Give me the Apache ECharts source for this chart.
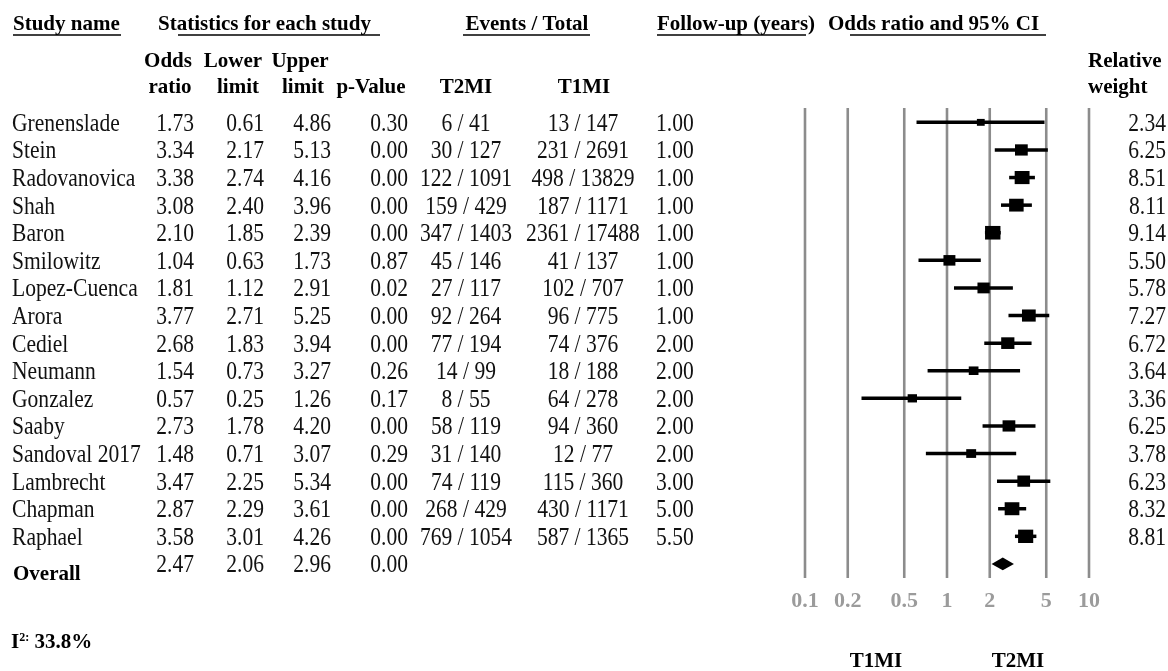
<!DOCTYPE html>
<html>
<head>
<meta charset="utf-8">
<title>Forest plot: odds ratio T2MI vs T1MI</title>
<script src="https://cdn.jsdelivr.net/npm/echarts@6/dist/echarts.min.js"></script>
<style>
  html, body { margin: 0; padding: 0; background: #ffffff; }
  #chart { width: 1168px; height: 671px; }
</style>
</head>
<body>
<div id="chart"></div>
<script>
// ---- study data ----
const studies = ['Grenenslade', 'Stein', 'Radovanovica', 'Shah', 'Baron', 'Smilowitz', 'Lopez-Cuenca', 'Arora',
  'Cediel', 'Neumann', 'Gonzalez', 'Saaby', 'Sandoval 2017', 'Lambrecht', 'Chapman', 'Raphael'];
const oddsRatio = [1.73, 3.34, 3.38, 3.08, 2.10, 1.04, 1.81, 3.77, 2.68, 1.54, 0.57, 2.73, 1.48, 3.47, 2.87, 3.58];
const lowerLimit = [0.61, 2.17, 2.74, 2.40, 1.85, 0.63, 1.12, 2.71, 1.83, 0.73, 0.25, 1.78, 0.71, 2.25, 2.29, 3.01];
const upperLimit = [4.86, 5.13, 4.16, 3.96, 2.39, 1.73, 2.91, 5.25, 3.94, 3.27, 1.26, 4.20, 3.07, 5.34, 3.61, 4.26];
const pValues = ['0.30', '0.00', '0.00', '0.00', '0.00', '0.87', '0.02', '0.00', '0.00', '0.26', '0.17', '0.00', '0.29', '0.00', '0.00', '0.00'];
const eventsT2MI = ['6 / 41', '30 / 127', '122 / 1091', '159 / 429', '347 / 1403', '45 / 146', '27 / 117', '92 / 264',
  '77 / 194', '14 / 99', '8 / 55', '58 / 119', '31 / 140', '74 / 119', '268 / 429', '769 / 1054'];
const eventsT1MI = ['13 / 147', '231 / 2691', '498 / 13829', '187 / 1171', '2361 / 17488', '41 / 137', '102 / 707', '96 / 775',
  '74 / 376', '18 / 188', '64 / 278', '94 / 360', '12 / 77', '115 / 360', '430 / 1171', '587 / 1365'];
const followUp = [1.00, 1.00, 1.00, 1.00, 1.00, 1.00, 1.00, 1.00, 2.00, 2.00, 2.00, 2.00, 2.00, 3.00, 5.00, 5.50];
const relWeight = [2.34, 6.25, 8.51, 8.11, 9.14, 5.50, 5.78, 7.27, 6.72, 3.64, 3.36, 6.25, 3.78, 6.23, 8.32, 8.81];

// pooled estimate
const overallOR = 2.47;
const overallLower = 2.06;
const overallUpper = 2.96;
const overallP = '0.00';
const heterogeneityI2 = '33.8%';

// log axis reference lines / tick labels
const axisTicks = [0.1, 0.2, 0.5, 1, 2, 5, 10];
const axisTickLabels = ['0.1', '0.2', '0.5', '1', '2', '5', '10'];

// ---- styling ----
const FONT = "'Liberation Serif', 'Times New Roman', serif";
const ROW_MIN = -0.52;
const ROW_MAX = 16.51;
const OVERALL_ROW = studies.length;
const BODY_SIZE = 24.5;
const BODY_SQUEEZE = 0.88;   // narrow serif body text

// body text: positioned by the element origin so the horizontal squeeze keeps alignment
function textEl(text, x, y, extra) {
  return {
    type: 'text',
    silent: true,
    x: x, y: y,
    scaleX: BODY_SQUEEZE,
    style: Object.assign({
      text: text, x: 0, y: 0,
      fontFamily: FONT, fontSize: BODY_SIZE, fontWeight: 'normal',
      fill: '#111111', align: 'left', verticalAlign: 'middle'
    }, extra || {})
  };
}
function boldEl(text, x, y, extra) {
  return {
    type: 'text',
    silent: true,
    style: Object.assign({
      text: text, x: x, y: y,
      fontFamily: FONT, fontSize: 21, fontWeight: 'bold',
      fill: '#000000', align: 'left', verticalAlign: 'middle'
    }, extra || {})
  };
}
function underline(x1, x2, y) {
  return { type: 'line', silent: true, shape: { x1: x1, y1: y, x2: x2, y2: y }, style: { stroke: '#000', lineWidth: 1.6 } };
}

const chart = echarts.init(document.getElementById('chart'), null, { renderer: 'canvas' });

const studyData = studies.map((s, i) => [lowerLimit[i], upperLimit[i], oddsRatio[i], relWeight[i], i]);
const tableRows = studies.map((s, i) => [1, i]).concat([[1, OVERALL_ROW]]);

const option = {
  animation: false,
  backgroundColor: '#ffffff',
  grid: { left: 805, right: 79, top: 108, height: 470, containLabel: false },
  xAxis: {
    type: 'log', logBase: 10, min: 0.1, max: 10,
    axisLine: { show: false }, axisTick: { show: false }, axisLabel: { show: false }, splitLine: { show: false }
  },
  yAxis: {
    type: 'value', inverse: true, min: ROW_MIN, max: ROW_MAX,
    axisLine: { show: false }, axisTick: { show: false }, axisLabel: { show: false }, splitLine: { show: false }
  },
  series: [
    {
      // vertical reference lines and their tick labels
      name: 'scale',
      type: 'custom',
      clip: false,
      silent: true,
      data: axisTicks.map((v, i) => [v, i]),
      encode: { x: 0 },
      renderItem: function (params, api) {
        const v = api.value(0);
        const top = api.coord([v, ROW_MIN]);
        const bot = api.coord([v, ROW_MAX]);
        return {
          type: 'group',
          children: [
            { type: 'line', shape: { x1: top[0], y1: top[1], x2: bot[0], y2: bot[1] },
              style: { stroke: '#8c8c8c', lineWidth: 2.6 } },
            boldEl(axisTickLabels[params.dataIndex], top[0], 601,
              { align: 'center', fontSize: 22, fill: '#9b9b9b' })
          ]
        };
      }
    },
    {
      // study estimates: CI whisker + weighted square
      name: 'studies',
      type: 'custom',
      clip: false,
      data: studyData,
      encode: { x: [0, 1, 2], y: 4 },
      renderItem: function (params, api) {
        const row = api.value(4);
        const lo = api.coord([api.value(0), row]);
        const hi = api.coord([api.value(1), row]);
        const c = api.coord([api.value(2), row]);
        const w = Math.sqrt(api.value(3));
        const sw = 5.1 * w, sh = 4.5 * w;
        return {
          type: 'group',
          children: [
            { type: 'line', shape: { x1: lo[0], y1: lo[1], x2: hi[0], y2: hi[1] },
              style: { stroke: '#000', lineWidth: 3.5 } },
            { type: 'rect', shape: { x: c[0] - sw / 2, y: c[1] - sh / 2, width: sw, height: sh },
              style: { fill: '#000' } }
          ]
        };
      }
    },
    {
      // pooled estimate diamond
      name: 'overall',
      type: 'custom',
      clip: false,
      data: [[overallLower, overallUpper, overallOR, OVERALL_ROW]],
      encode: { x: [0, 1, 2], y: 3 },
      renderItem: function (params, api) {
        const row = api.value(3);
        const lo = api.coord([api.value(0), row]);
        const hi = api.coord([api.value(1), row]);
        const c = api.coord([api.value(2), row]);
        const h = 6.4;
        return {
          type: 'polygon',
          shape: { points: [[lo[0], lo[1]], [c[0], c[1] - h], [hi[0], hi[1]], [c[0], c[1] + h]] },
          style: { fill: '#000' }
        };
      }
    },
    {
      // table columns to the left and relative weights to the right
      name: 'table',
      type: 'custom',
      clip: false,
      silent: true,
      data: tableRows,
      encode: { x: 0, y: 1 },
      renderItem: function (params, api) {
        const row = api.value(1);
        const y = api.coord([1, row])[1] + 2;
        const i = params.dataIndex;
        if (i < studies.length) {
          return {
            type: 'group',
            children: [
              textEl(studies[i], 12, y),
              textEl(oddsRatio[i].toFixed(2), 194, y, { align: 'right' }),
              textEl(lowerLimit[i].toFixed(2), 264, y, { align: 'right' }),
              textEl(upperLimit[i].toFixed(2), 331, y, { align: 'right' }),
              textEl(pValues[i], 408, y, { align: 'right' }),
              textEl(eventsT2MI[i], 466, y, { align: 'center' }),
              textEl(eventsT1MI[i], 583, y, { align: 'center' }),
              textEl(followUp[i].toFixed(2), 656, y),
              textEl(relWeight[i].toFixed(2), 1166, y, { align: 'right' })
            ]
          };
        }
        return {
          type: 'group',
          children: [
            boldEl('Overall', 13, y + 9),
            textEl(overallOR.toFixed(2), 194, y, { align: 'right' }),
            textEl(overallLower.toFixed(2), 264, y, { align: 'right' }),
            textEl(overallUpper.toFixed(2), 331, y, { align: 'right' }),
            textEl(overallP, 408, y, { align: 'right' })
          ]
        };
      }
    }
  ],
  graphic: [
    // column group headings
    boldEl('Study name', 13, 25), underline(13, 121, 35),
    boldEl('Statistics for each study', 158, 25), underline(178, 380, 35),
    boldEl('Events / Total', 527, 25, { align: 'center' }), underline(463, 590, 35),
    boldEl('Follow-up (years)', 657, 25), underline(657, 806, 35),
    boldEl('Odds ratio and 95% CI', 828, 25), underline(850, 1046, 35),
    // sub headings
    boldEl('Odds', 168, 62, { align: 'center' }), boldEl('ratio', 170, 88, { align: 'center' }),
    boldEl('Lower', 233, 62, { align: 'center' }), boldEl('limit', 238, 88, { align: 'center' }),
    boldEl('Upper', 300, 62, { align: 'center' }), boldEl('limit', 303, 88, { align: 'center' }),
    boldEl('p-Value', 371, 88, { align: 'center' }),
    boldEl('T2MI', 466, 88, { align: 'center' }),
    boldEl('T1MI', 584, 88, { align: 'center' }),
    boldEl('Relative', 1088, 62), boldEl('weight', 1088, 88),
    // favours labels under the axis
    boldEl('T1MI', 876, 662, { align: 'center' }),
    boldEl('T2MI', 1018, 662, { align: 'center' }),
    // heterogeneity
    {
      type: 'text', silent: true,
      style: {
        x: 11, y: 643, verticalAlign: 'middle',
        text: '{b|I}{s|2:}{b| ' + heterogeneityI2 + '}',
        rich: {
          b: { fontFamily: FONT, fontWeight: 'bold', fontSize: 21, fill: '#000' },
          s: { fontFamily: FONT, fontWeight: 'bold', fontSize: 12, fill: '#000', verticalAlign: 'top', padding: [0, 0, 10, 0] }
        }
      }
    }
  ]
};

chart.setOption(option);
</script>
</body>
</html>
